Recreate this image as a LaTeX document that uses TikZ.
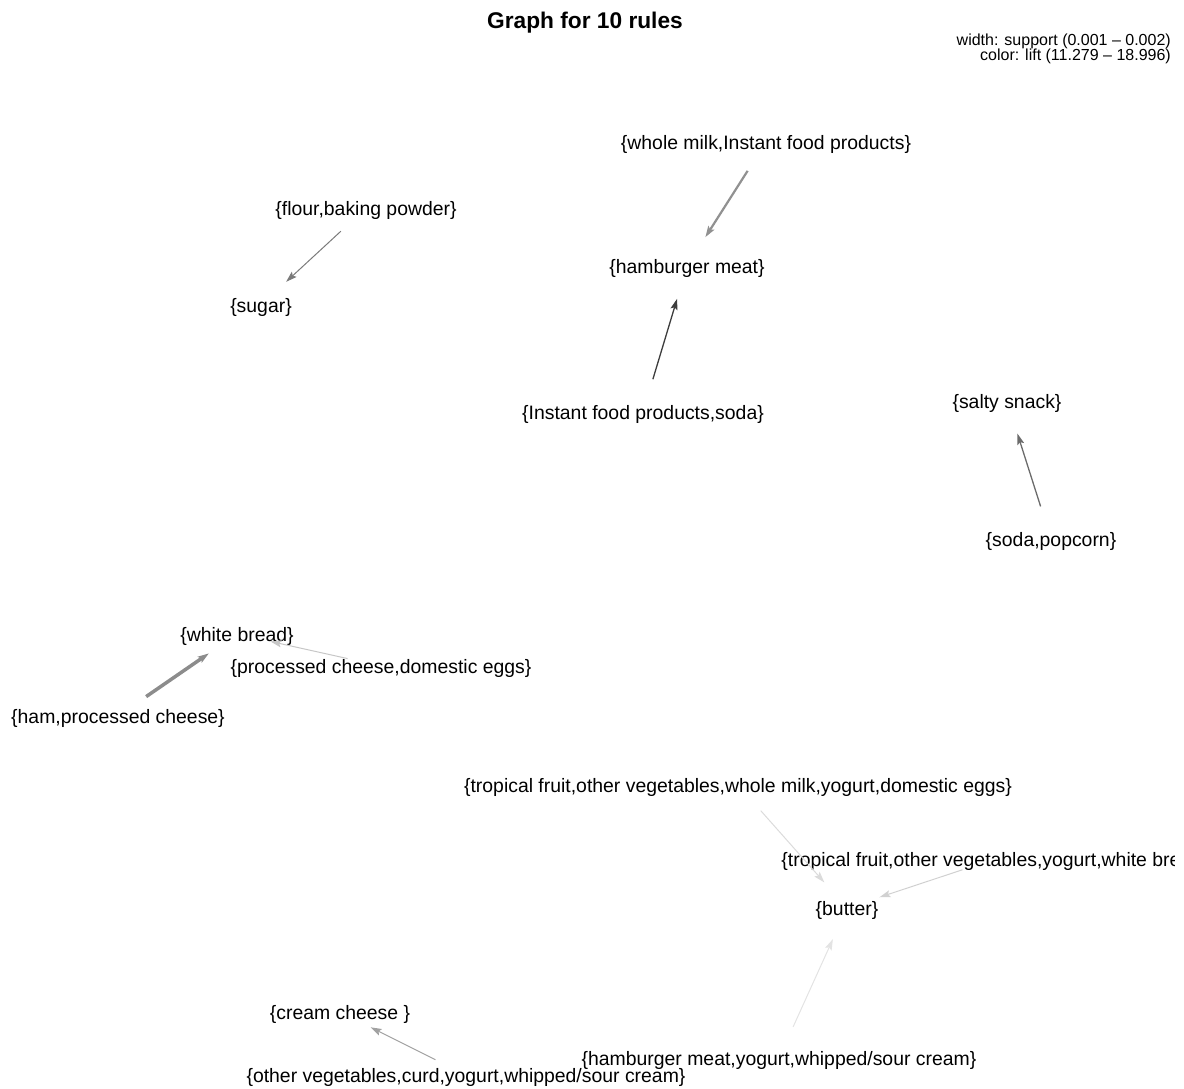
\documentclass[tikz,border=0pt]{standalone}
\usepackage{fontspec}
\setmainfont{Liberation Sans}
\usetikzlibrary{arrows.meta}

\definecolor{liftA}{gray}{0.24}
\definecolor{liftB}{gray}{0.42}
\definecolor{liftC}{gray}{0.48}
\definecolor{liftD}{gray}{0.55}
\definecolor{liftE}{gray}{0.57}
\definecolor{liftF}{gray}{0.63}
\definecolor{liftG}{gray}{0.78}
\definecolor{liftH}{gray}{0.82}
\definecolor{liftI}{gray}{0.86}
\definecolor{liftJ}{gray}{0.89}

\begin{document}
\begin{tikzpicture}[x = 1pt, y = -1pt, vertex/.style = {circle, minimum size = 68pt, inner sep = 0pt}, every label/.style = {font = \fontsize{19.4}{22}\selectfont, inner sep = 0pt, yshift = -2pt}, legend/.style = {anchor = east, inner sep = 0pt, font = \fontsize{16}{18}\selectfont}, rule/.style = {-{Stealth[length = 11pt, width = 7pt, inset = 2pt]}}]

  \useasboundingbox (0, 0) rectangle (1184, 1089);

  \node[font = \fontsize{22.7}{26}\selectfont\bfseries] (title) at (585, 23) {Graph for 10 rules};
  \node[legend] (legw) at (1171, 41) {width: support (0.001 -- 0.002)};
  \node[legend] (legc) at (1171, 56.5) {color: lift (11.279 -- 18.996)};

  \node[vertex, label = center:{\{whole milk,Instant food products\}}] (wmifp) at (766, 142) {};
  \node[vertex, label = center:{\{hamburger meat\}}] (hm) at (687, 266) {};
  \node[vertex, label = center:{\{flour,baking powder\}}] (fbp) at (366, 208) {};
  \node[vertex, label = center:{\{sugar\}}] (sugar) at (261, 305) {};
  \node[vertex, label = center:{\{Instant food products,soda\}}] (ifps) at (643, 412) {};
  \node[vertex, label = center:{\{salty snack\}}] (ss) at (1007, 401) {};
  \node[vertex, label = center:{\{soda,popcorn\}}] (sp) at (1051, 539) {};
  \node[vertex, label = center:{\{white bread\}}] (wb) at (237, 634) {};
  \node[vertex, label = center:{\{processed cheese,domestic eggs\}}] (pcde) at (381, 666) {};
  \node[vertex, label = center:{\{ham,processed cheese\}}] (hpc) at (118, 716) {};
  \node[vertex, label = center:{\{tropical fruit,other vegetables,whole milk,yogurt,domestic eggs\}}] (tfwm) at (738, 785) {};
  \begin{scope}
    \clip (0, 0) rectangle (1174, 1089);
    \node[vertex, label = center:{\{tropical fruit,other vegetables,yogurt,white bread\}}] (tfwb) at (995, 859) {};
  \end{scope}
  \node[vertex, label = center:{\{butter\}}] (butter) at (847, 908) {};
  \node[vertex, label = center:{\{cream cheese \}}] (cc) at (340, 1012) {};
  \node[vertex, label = center:{\{other vegetables,curd,yogurt,whipped/sour cream\}}] (ovcy) at (466, 1075) {};
  \node[vertex, label = center:{\{hamburger meat,yogurt,whipped/sour cream\}}] (hmyw) at (779, 1058) {};

  \draw[rule, liftE, line width = 2.2pt] (wmifp) -- (hm);
  \draw[rule, liftC, line width = 1pt] (fbp) -- (sugar);
  \draw[rule, liftA, line width = 1.3pt] (ifps) -- (hm);
  \draw[rule, liftB, line width = 1.3pt] (sp) -- (ss);
  \draw[rule, liftG, line width = 1pt] (pcde) -- (wb);
  \draw[rule, liftD, line width = 3.5pt] (hpc) -- (wb);
  \draw[rule, liftI, line width = 1pt] (tfwm) -- (butter);
  \draw[rule, liftH, line width = 1pt] (tfwb) -- (butter);
  \draw[rule, liftJ, line width = 1pt] (hmyw) -- (butter);
  \draw[rule, liftF, line width = 1pt] (ovcy) -- (cc);

\end{tikzpicture}
\end{document}
